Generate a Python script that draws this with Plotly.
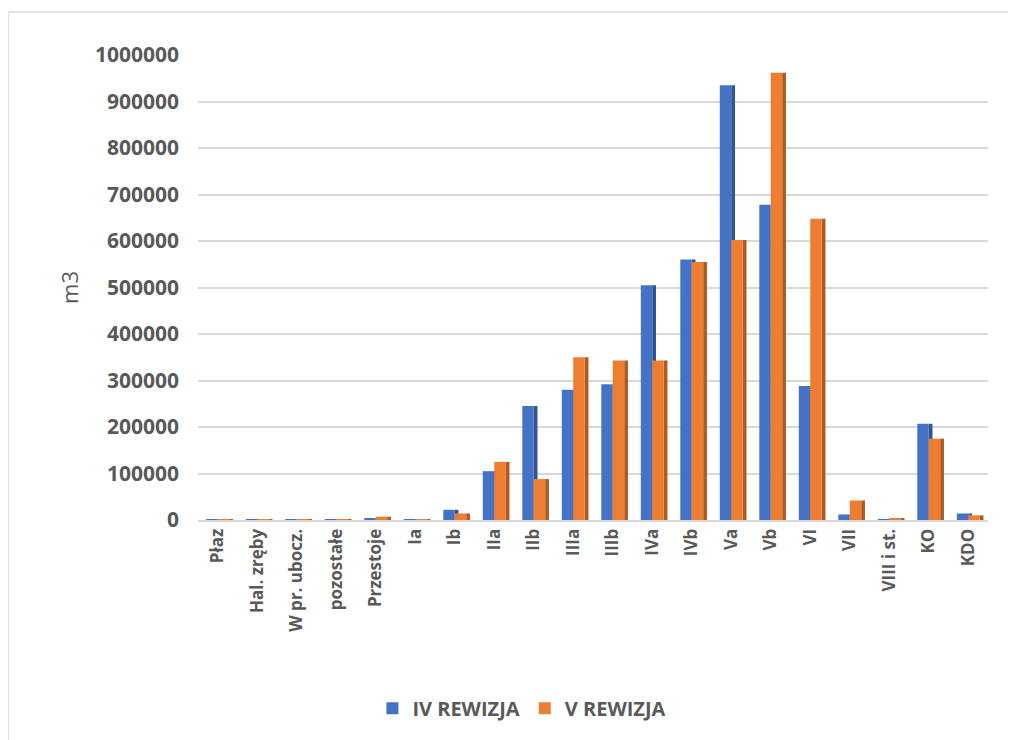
import plotly.graph_objects as go

categories = ["Płaz", "Hal. zręby", "W pr. ubocz.", "pozostałe", "Przestoje",
              "Ia", "Ib", "IIa", "IIb", "IIIa", "IIIb", "IVa", "IVb",
              "Va", "Vb", "VI", "VII", "VIII i st.", "KO", "KDO"]

rew_iv = [1000, 500, 500, 1000, 3000, 500, 22000, 105000, 245000, 280000,
          292000, 505000, 560000, 935000, 678000, 288000, 12000, 1000,
          207000, 14000]
rew_v = [500, 1000, 500, 2000, 7000, 500, 14000, 125000, 88000, 350000,
         343000, 343000, 555000, 602000, 962000, 648000, 42000, 3000,
         175000, 10000]

y_ticks = [0, 100000, 200000, 300000, 400000, 500000, 600000, 700000,
           800000, 900000, 1000000]

grey = "#595959"
face = 0.29   # front face width (category units)
side = 0.095  # darker side face, fakes the 3D look

fig = go.Figure()
# blue side, blue front, orange side, orange front (draw order matters)
fig.add_trace(go.Bar(x=categories, y=rew_iv, offset=0, width=side,
                     marker=dict(color="#2F5597", line=dict(width=0)),
                     showlegend=False, hoverinfo="skip"))
fig.add_trace(go.Bar(x=categories, y=rew_iv, offset=-face, width=face,
                     name="<b>IV REWIZJA</b>",
                     marker=dict(color="#4472C4", line=dict(width=0))))
fig.add_trace(go.Bar(x=categories, y=rew_v, offset=face, width=side,
                     marker=dict(color="#AE5A21", line=dict(width=0)),
                     showlegend=False, hoverinfo="skip"))
fig.add_trace(go.Bar(x=categories, y=rew_v, offset=0, width=face,
                     name="<b>V REWIZJA</b>",
                     marker=dict(color="#ED7D31", line=dict(width=0))))

# page body adds 8px on left/top, margins account for that
fig.update_layout(
    width=1016, height=740,
    paper_bgcolor="white", plot_bgcolor="white",
    margin=dict(l=190, r=36, t=47, b=228),
    barmode="overlay",
    font=dict(family="Open Sans", color=grey),
    legend=dict(orientation="h", x=0.41, xanchor="center", y=-0.405, yanchor="middle",
                font=dict(size=20, color=grey, family="Open Sans"),
                traceorder="normal", itemwidth=30),
    xaxis=dict(tickangle=-90, tickfont=dict(size=17, color=grey, family="Open Sans"),
               ticktext=["<b>%s</b>" % c for c in categories], tickvals=categories,
               showline=True, linecolor="#d9d9d9", linewidth=2, ticks="",
               automargin=False, range=[-0.5, 19.5]),
    yaxis=dict(range=[0, 1000000], tickvals=y_ticks,
               ticktext=["<b>%d</b>" % v for v in y_ticks],
               tickfont=dict(size=21, color=grey, family="Open Sans"),
               gridcolor="#d9d9d9", gridwidth=2, zeroline=False, automargin=False,
               ticklabelstandoff=18,
               title=dict(text="m3", font=dict(size=22, color=grey), standoff=10)),
    shapes=[dict(type="rect", xref="paper", yref="paper",
                 x0=-0.2405, x1=1.06, y0=-0.5, y1=1.0925,
                 line=dict(color="#d9d9d9", width=1.5), fillcolor="rgba(0,0,0,0)")],
)

fig.write_html("out.html")
